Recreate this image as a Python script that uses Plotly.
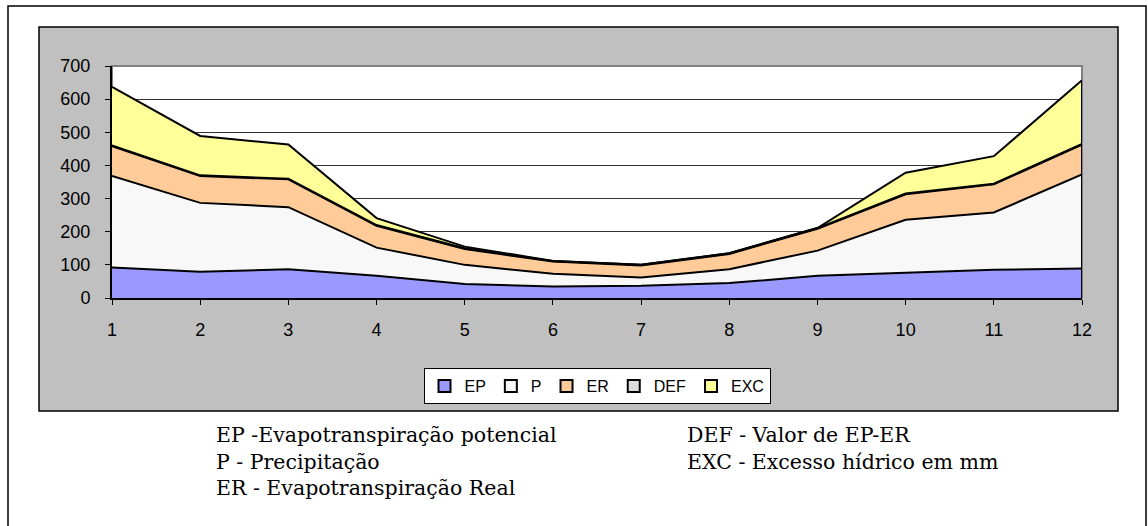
import plotly.graph_objects as go

months = [1, 2, 3, 4, 5, 6, 7, 8, 9, 10, 11, 12]
EP = [92, 79, 87, 67, 42, 35, 37, 45, 67, 75, 85, 89]
P = [276, 208, 187, 85, 58, 38, 25, 42, 76, 161, 173, 284]
ER = [90, 81, 84, 66, 48, 37, 36, 46, 66, 77, 85, 90]
DEF = [2, 2, 2, 2, 2, 2, 2, 2, 2, 2, 2, 2]
EXC = [177, 119, 103, 21, 5, 0, 0, 0, 0, 63, 83, 192]
y_ticks = [0, 100, 200, 300, 400, 500, 600, 700]

series = [
    ("EP", EP, "#9999FF"),
    ("P", P, "#F8F8F8"),
    ("ER", ER, "#FFCC99"),
    ("DEF", DEF, "#DDDDDD"),
    ("EXC", EXC, "#FFFF99"),
]

W, H = 1148, 526
L, R, T, B = 112, 1082, 66, 298  # plot area in pixels


def px(x):
    return (x - L) / (R - L)


def py(y):
    return (B - y) / (B - T)


fig = go.Figure()

for name, vals, col in series:
    fig.add_trace(go.Scatter(
        x=months, y=vals, name=name, stackgroup="one", mode="lines",
        line=dict(color="black", width=2), fillcolor=col,
        showlegend=False, hoverinfo="skip"))

# right vertical edge of the stacked areas
total_last = sum(s[1][-1] for s in series)
fig.add_trace(go.Scatter(x=[months[-1], months[-1]], y=[0, total_last], mode="lines",
                         line=dict(color="black", width=2), showlegend=False,
                         hoverinfo="skip"))

for name, vals, col in series:
    fig.add_trace(go.Scatter(
        x=[None], y=[None], name=name, mode="markers",
        marker=dict(symbol="square", size=12, color=col,
                    line=dict(color="black", width=2))))

shapes = [
    # outer border
    dict(type="rect", xref="paper", yref="paper", x0=px(8), x1=px(1146), y0=py(6), y1=py(540),
         line=dict(color="black", width=1.5), fillcolor="white", layer="below"),
    # gray chart area
    dict(type="rect", xref="paper", yref="paper", x0=px(39), x1=px(1118), y0=py(27), y1=py(411),
         line=dict(color="black", width=1.5), fillcolor="#C0C0C0", layer="below"),
    # plot area
    dict(type="rect", xref="paper", yref="paper", x0=0, x1=1, y0=0, y1=1,
         line=dict(color="#808080", width=2), fillcolor="white", layer="below"),
]

note_font = dict(family="DejaVu Serif", size=20.5, color="black")
annotations = [
    dict(xref="paper", yref="paper", x=px(214), y=py(421), xanchor="left", yanchor="top",
         align="left", showarrow=False,
         text="EP -Evapotranspiração potencial<br>P - Precipitação<br>ER - Evapotranspiração Real",
         font=note_font),
    dict(xref="paper", yref="paper", x=px(685), y=py(421), xanchor="left", yanchor="top",
         align="left", showarrow=False,
         text="DEF - Valor de EP-ER<br>EXC - Excesso hídrico em mm",
         font=note_font),
]

tick_font = dict(family="Arial, Liberation Sans", size=18, color="black")

fig.update_layout(
    width=W, height=H, autosize=False,
    margin=dict(l=L, r=W - R, t=T, b=H - B, pad=0),
    paper_bgcolor="white", plot_bgcolor="white",
    font=dict(family="Arial, Liberation Sans", size=16, color="black"),
    shapes=shapes, annotations=annotations,
    showlegend=True,
    legend=dict(orientation="h", x=px(597), xanchor="center", y=py(368), yanchor="top",
                bgcolor="white", bordercolor="black", borderwidth=1, traceorder="normal",
                font=dict(family="Arial, Liberation Sans", size=16, color="black"),
                itemwidth=30, tracegroupgap=0),
    xaxis=dict(range=[1, 12], tickvals=months, ticktext=[str(m) for m in months],
               showgrid=False, zeroline=False, showline=True, linecolor="black", linewidth=2,
               ticks="outside", ticklen=5, tickcolor="black", tickwidth=1,
               ticklabelstandoff=9, tickfont=tick_font),
    yaxis=dict(range=[0, 700], tickvals=y_ticks, showgrid=True, gridcolor="#333333",
               gridwidth=1, zeroline=False, showline=True, linecolor="black", linewidth=2,
               ticks="outside", ticklen=5, tickcolor="black", tickwidth=1,
               ticklabelstandoff=11, tickfont=tick_font),
)

fig.write_html("out.html", config={"displayModeBar": False, "staticPlot": True},
               post_script="document.body.style.margin='0';document.body.style.overflow='hidden';")
